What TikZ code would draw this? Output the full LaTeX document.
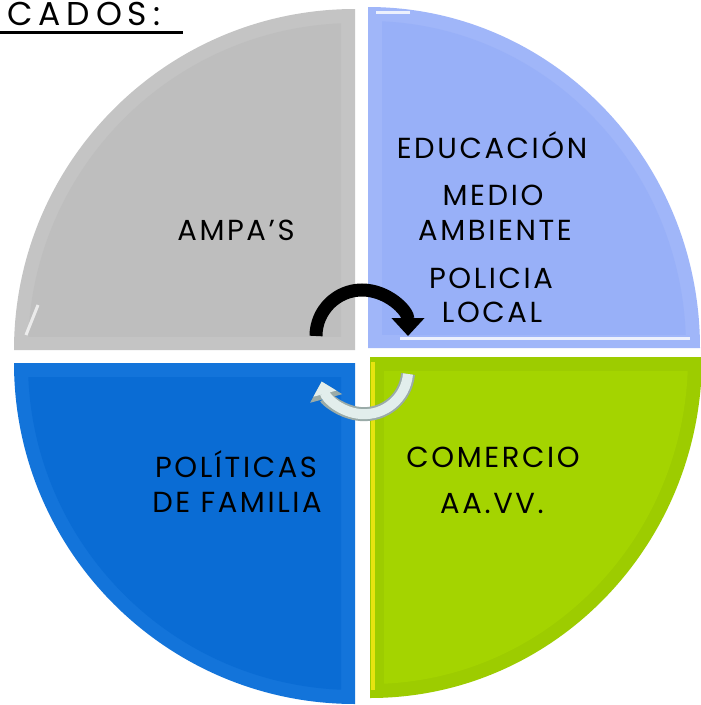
\documentclass[tikz,border=0pt]{standalone}
\usepackage{fontspec}
\setmainfont{Poppins}[LetterSpace=9]
\usetikzlibrary{arrows.meta}
\definecolor{grisq}{HTML}{BEBEBE}
\definecolor{grisb}{HTML}{C4C4C4}
\definecolor{celesteq}{HTML}{98B0F8}
\definecolor{celesteb}{HTML}{A0B6F9}
\definecolor{azulq}{HTML}{0A6CD4}
\definecolor{azulb}{HTML}{1374DA}
\definecolor{verdeq}{HTML}{A4D400}
\definecolor{verdeb}{HTML}{9DCC00}
\definecolor{flechab}{HTML}{E2EEEC}
\definecolor{flechaborde}{HTML}{9AABA8}

\begin{document}
\begin{tikzpicture}[x=1pt,y=-1pt,
  lbl/.style={anchor=base,inner sep=0pt,font=\fontsize{29}{34}\selectfont,text=black},
  flechanegra/.style={line width=13pt,color=black,-{Triangle[width=32pt,length=18pt]}},
  flechaclara/.style={line width=#1,-{Triangle[width=2.3*#1,length=1.25*#1]}}]
\useasboundingbox (0,0) rectangle (701,705);
\clip (0,0) rectangle (701,705);
\fill[white] (0,0) rectangle (701,705);

% cuadrantes
\fill[grisb] (355,350) -- ++(-341,0) arc[start angle=180,end angle=270,radius=341] -- cycle;
\begin{scope}
  \clip (0,0) rectangle (341,336);
  \fill[grisq] (355,350) circle[radius=327];
\end{scope}
\fill[celesteb] (368,348) -- ++(0,-341) arc[start angle=270,end angle=360,x radius=332,y radius=341] -- cycle;
\begin{scope}
  \clip (382,0) rectangle (701,334);
  \fill[celesteq] (368,348) circle[x radius=318,y radius=327];
\end{scope}
\fill[azulb] (355,363) -- ++(0,341) arc[start angle=90,end angle=180,radius=341] -- cycle;
\begin{scope}
  \clip (0,377) rectangle (341,705);
  \fill[azulq] (355,363) circle[radius=327];
\end{scope}
\fill[verdeb] (370,357) -- ++(332,0) arc[start angle=0,end angle=90,x radius=332,y radius=341] -- cycle;
\begin{scope}
  \clip (384,371) rectangle (701,705);
  \fill[verdeq] (370,357) circle[x radius=318,y radius=327];
\end{scope}
\draw[white,line width=3pt,opacity=.8] (376,12) -- (410,12);
\draw[white,line width=3pt,opacity=.8] (400,338) -- (690,338);
\draw[yellow!70!verdeq,line width=4pt] (373,362) -- (373,690);
\draw[white,line width=3pt,opacity=.7] (26,335) -- (38,305);

% textos
\node[anchor=base west,inner sep=0pt,font=\fontsize{33}{38}\selectfont\addfontfeatures{LetterSpace=18}] (titulo) at (7,25) {CADOS:};
\draw[line width=3pt] (0,32) -- (183,32);

\node[lbl] (ampas) at (236,240) {AMPA’S};
\node[lbl] (educacion) at (492,158) {EDUCACIÓN};
\node[lbl] (medio) at (493,205) {MEDIO};
\node[lbl] (ambiente) at (495,240) {AMBIENTE};
\node[lbl] (policia) at (491,288) {POLICIA};
\node[lbl] (local) at (492,322) {LOCAL};
\node[lbl] (politicas) at (236,477) {POLÍTICAS};
\node[lbl] (familia) at (237,512) {DE FAMILIA};
\node[lbl] (comercio) at (493,467) {COMERCIO};
\node[lbl] (aavv) at (492,513) {AA.VV.};

% flechas
\draw[flechanegra] (316,336) arc[start angle=180,end angle=360,radius=46];
\draw[flechaclara=14pt,flechaborde] (408,374) arc[start angle=5,end angle=165,radius=44];
\draw[flechaclara=10pt,flechab] (408,374) arc[start angle=5,end angle=165,radius=44];
\end{tikzpicture}
\end{document}
